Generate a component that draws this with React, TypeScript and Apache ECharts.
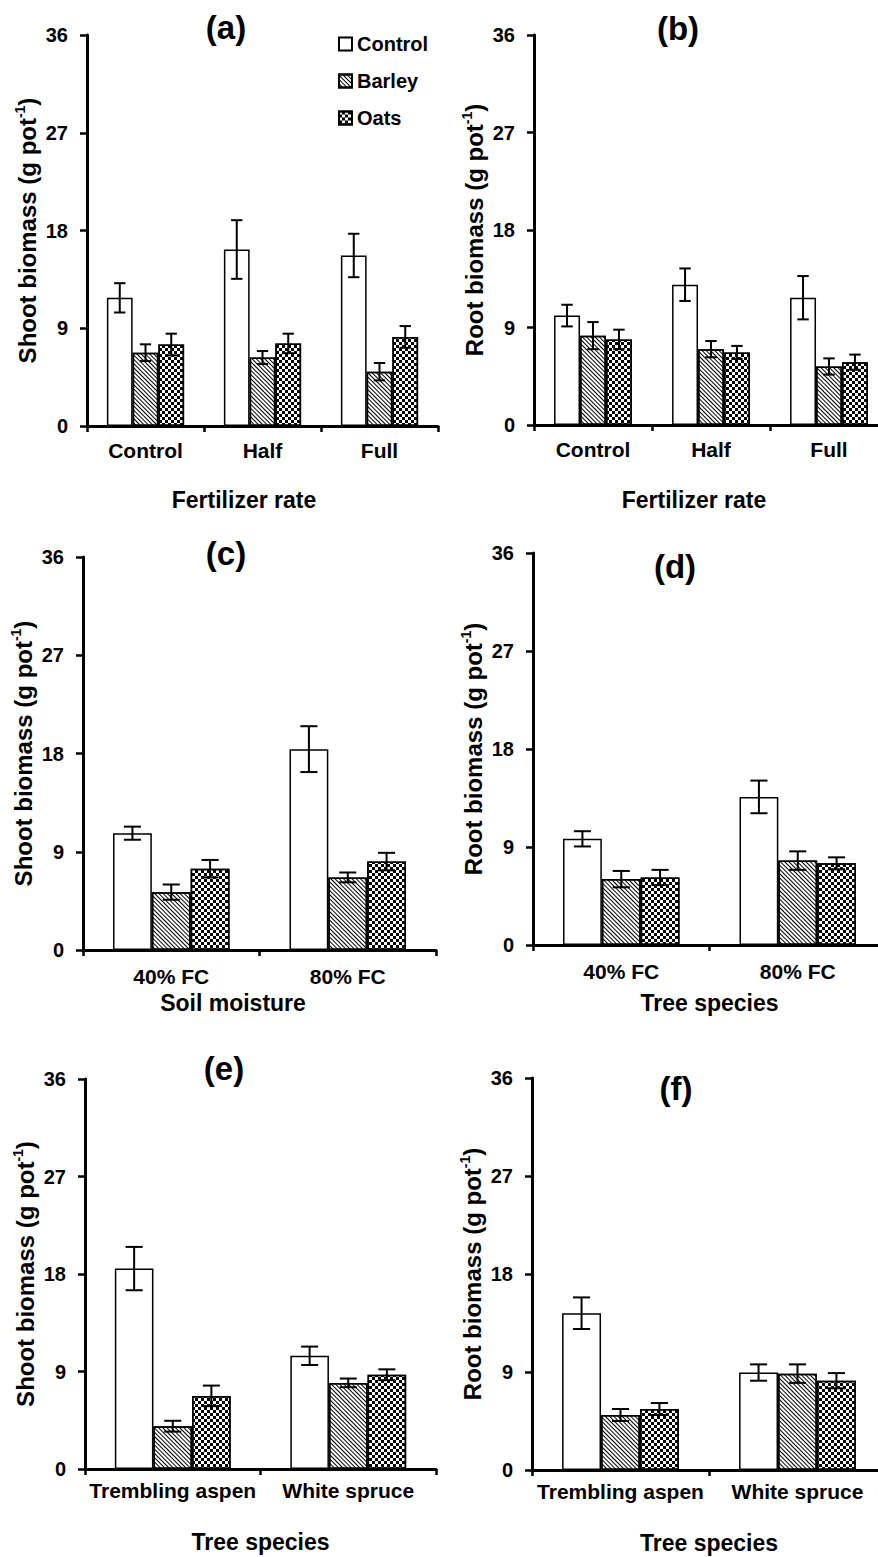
import React, { useEffect, useRef } from 'react';
import * as echarts from 'echarts';

// ---------- data ----------
const fertCats = ['Control', 'Half', 'Full'];
const moistCats = ['40% FC', '80% FC'];
const speciesCats = ['Trembling aspen', 'White spruce'];
const seriesNames = ['Control', 'Barley', 'Oats'];
const yTicks = [0, 9, 18, 27, 36];

// (a) shoot biomass by fertilizer rate
const aControl = [11.8, 16.25, 15.7];
const aControlErr = [1.35, 2.7, 2.0];
const aBarley = [6.75, 6.3, 5.0];
const aBarleyErr = [0.77, 0.6, 0.8];
const aOats = [7.5, 7.6, 8.2];
const aOatsErr = [1.0, 0.9, 1.0];

// (b) root biomass by fertilizer rate
const bControl = [10.1, 12.95, 11.75];
const bControlErr = [1.0, 1.5, 2.0];
const bBarley = [8.25, 7.0, 5.4];
const bBarleyErr = [1.25, 0.75, 0.75];
const bOats = [7.9, 6.7, 5.8];
const bOatsErr = [0.9, 0.6, 0.7];

// (c) shoot biomass by soil moisture
const cControl = [10.7, 18.4];
const cControlErr = [0.6, 2.1];
const cBarley = [5.3, 6.65];
const cBarleyErr = [0.7, 0.45];
const cOats = [7.45, 8.1];
const cOatsErr = [0.8, 0.8];

// (d) root biomass by soil moisture
const dControl = [9.75, 13.6];
const dControlErr = [0.7, 1.5];
const dBarley = [6.05, 7.75];
const dBarleyErr = [0.75, 0.85];
const dOats = [6.2, 7.5];
const dOatsErr = [0.7, 0.55];

// (e) shoot biomass by tree species
const eControl = [18.5, 10.45];
const eControlErr = [2.0, 0.85];
const eBarley = [3.95, 7.95];
const eBarleyErr = [0.5, 0.4];
const eOats = [6.75, 8.7];
const eOatsErr = [0.95, 0.5];

// (f) root biomass by tree species
const fControl = [14.4, 8.95];
const fControlErr = [1.45, 0.75];
const fBarley = [5.05, 8.85];
const fBarleyErr = [0.55, 0.85];
const fOats = [5.6, 8.2];
const fOatsErr = [0.55, 0.7];

const panelTitles = ['(a)', '(b)', '(c)', '(d)', '(e)', '(f)'];
const shootName = 'Shoot biomass (g pot{sup|-1})';
const rootName = 'Root biomass (g pot{sup|-1})';

// ---------- styling / layout ----------
const FONT = "'Liberation Sans', Arial, Helvetica, sans-serif";
const GAP = 0.34;

const panels = [
  { cats: fertCats, yName: shootName, xName: 'Fertilizer rate', vals: [aControl, aBarley, aOats], errs: [aControlErr, aBarleyErr, aOatsErr] },
  { cats: fertCats, yName: rootName, xName: 'Fertilizer rate', vals: [bControl, bBarley, bOats], errs: [bControlErr, bBarleyErr, bOatsErr] },
  { cats: moistCats, yName: shootName, xName: 'Soil moisture', vals: [cControl, cBarley, cOats], errs: [cControlErr, cBarleyErr, cOatsErr] },
  { cats: moistCats, yName: rootName, xName: 'Tree species', vals: [dControl, dBarley, dOats], errs: [dControlErr, dBarleyErr, dOatsErr] },
  { cats: speciesCats, yName: shootName, xName: 'Tree species', vals: [eControl, eBarley, eOats], errs: [eControlErr, eBarleyErr, eOatsErr] },
  { cats: speciesCats, yName: rootName, xName: 'Tree species', vals: [fControl, fBarley, fOats], errs: [fControlErr, fBarleyErr, fOatsErr] },
];

const layouts = [
  { left: 87, top: 35, width: 351, height: 391, tx: 226, ty: 27, xGap: 62, xPad: 37, lMargin: 14 },
  { left: 534, top: 35, width: 354, height: 390, tx: 678, ty: 28, xGap: 63, xPad: 34, lMargin: 14 },
  { left: 83, top: 557, width: 353, height: 393, tx: 226, ty: 553, xGap: 41, xPad: 53, lMargin: 16 },
  { left: 533, top: 553, width: 353, height: 392, tx: 675, ty: 566, xGap: 46, xPad: 0, lMargin: 16 },
  { left: 85, top: 1079, width: 351, height: 390, tx: 224, ty: 1068, xGap: 61, xPad: 0, lMargin: 11 },
  { left: 532, top: 1078, width: 354, height: 392, tx: 676, ty: 1088, xGap: 61, xPad: 0, lMargin: 11 },
];

const barleyDecal = {
  symbol: 'rect',
  symbolSize: 1,
  color: '#000',
  dashArrayX: [1, 0],
  dashArrayY: [1, 2],
  rotation: Math.PI / 4,
};
const oatsDecal = {
  symbol: 'rect',
  symbolSize: 1,
  color: '#000',
  dashArrayX: [[3, 3], [0, 3, 3, 0]],
  dashArrayY: [3, 0],
  rotation: 0,
};
const decals: any[] = [null, barleyDecal, oatsDecal];

function makeErr(si: number) {
  return (params: any, api: any) => {
    const cat = api.value(0);
    const v = api.value(1);
    const e = api.value(2);
    const band = api.size([1, 0])[0];
    const bw = (band * (1 - GAP)) / 3;
    const c = api.coord([cat, v]);
    const x = c[0] + (si - 1) * bw;
    const yTop = api.coord([cat, v + e])[1];
    const yBot = api.coord([cat, v - e])[1];
    const hw = bw * 0.22;
    const st = { stroke: '#000', lineWidth: 2 };
    return {
      type: 'group',
      children: [
        { type: 'line', shape: { x1: x, y1: yTop, x2: x, y2: yBot }, style: st },
        { type: 'line', shape: { x1: x - hw, y1: yTop, x2: x + hw, y2: yTop }, style: st },
        { type: 'line', shape: { x1: x - hw, y1: yBot, x2: x + hw, y2: yBot }, style: st },
      ],
    };
  };
}

function buildOption() {
  const grid: any[] = [];
  const xAxis: any[] = [];
  const yAxis: any[] = [];
  const series: any[] = [];
  const graphic: any[] = [];

  panels.forEach((p, k) => {
    const L = layouts[k];
    grid.push({ left: L.left, top: L.top, width: L.width, height: L.height, outerBoundsMode: 'none', containLabel: false });
    xAxis.push({
      type: 'category',
      gridIndex: k,
      data: p.cats,
      boundaryGap: true,
      name: p.xName,
      nameLocation: 'middle',
      nameGap: L.xGap,
      nameTextStyle: { fontFamily: FONT, fontWeight: 'bold', fontSize: 23, color: '#000', padding: [0, L.xPad, 0, 0] },
      axisLine: { show: true, onZero: false, lineStyle: { color: '#000', width: 3 } },
      axisTick: { show: true, inside: false, length: 6, alignWithLabel: false, interval: 0, lineStyle: { color: '#000', width: 2.5 } },
      axisLabel: { show: true, interval: 0, margin: L.lMargin, fontFamily: FONT, fontWeight: 'bold', fontSize: 21, color: '#000' },
      splitLine: { show: false },
    });
    yAxis.push({
      type: 'value',
      gridIndex: k,
      min: yTicks[0],
      max: yTicks[yTicks.length - 1],
      interval: yTicks[1] - yTicks[0],
      name: p.yName,
      nameLocation: 'middle',
      nameRotate: 90,
      nameGap: 46,
      nameTextStyle: {
        fontFamily: FONT,
        fontWeight: 'bold',
        fontSize: 24,
        lineHeight: 28,
        color: '#000',
        rich: {
          sup: { fontFamily: FONT, fontWeight: 'bold', fontSize: 14, lineHeight: 16, verticalAlign: 'top', color: '#000' },
        },
      },
      axisLine: { show: true, lineStyle: { color: '#000', width: 3 } },
      axisTick: { show: true, inside: false, length: 7, lineStyle: { color: '#000', width: 2.5 } },
      axisLabel: { show: true, margin: 19, fontFamily: FONT, fontWeight: 'bold', fontSize: 20, color: '#000' },
      splitLine: { show: false },
    });

    seriesNames.forEach((name, si) => {
      series.push({
        type: 'bar',
        name,
        xAxisIndex: k,
        yAxisIndex: k,
        data: p.vals[si],
        barGap: '0%',
        barCategoryGap: GAP * 100 + '%',
        itemStyle: {
          color: '#fff',
          borderColor: '#000',
          borderWidth: 1.5,
          ...(decals[si] ? { decal: decals[si] } : {}),
        },
        emphasis: { disabled: true },
        z: 2,
      });
    });
    seriesNames.forEach((name, si) => {
      series.push({
        type: 'custom',
        name: name + ' error',
        xAxisIndex: k,
        yAxisIndex: k,
        data: p.vals[si].map((v, i) => [i, v, p.errs[si][i]]),
        encode: { x: 0, y: 1 },
        renderItem: makeErr(si),
        z: 5,
        silent: true,
      });
    });

    graphic.push({
      type: 'text',
      x: L.tx,
      y: L.ty,
      style: {
        text: panelTitles[k],
        fontFamily: FONT,
        fontWeight: 'bold',
        fontSize: 33,
        fill: '#000',
        textAlign: 'center',
        textVerticalAlign: 'middle',
      },
    });
  });

  return {
    animation: false,
    backgroundColor: '#fff',
    grid,
    xAxis,
    yAxis,
    series,
    graphic,
    legend: {
      data: seriesNames,
      orient: 'vertical',
      left: 333,
      top: 29,
      itemWidth: 13,
      itemHeight: 13,
      itemGap: 17,
      icon: 'rect',
      selectedMode: false,
      textStyle: { fontFamily: FONT, fontWeight: 'bold', fontSize: 20, color: '#000', lineHeight: 20 },
    },
  };
}

export default function App() {
  const ref = useRef<HTMLDivElement>(null);
  useEffect(() => {
    if (!ref.current) return;
    const chart = echarts.init(ref.current, null, { renderer: 'svg' });
    chart.setOption(buildOption() as any);
    return () => chart.dispose();
  }, []);
  return (
    <div
      ref={ref}
      style={{ position: 'absolute', left: 0, top: 0, width: 878, height: 1557, background: '#fff' }}
    />
  );
}
